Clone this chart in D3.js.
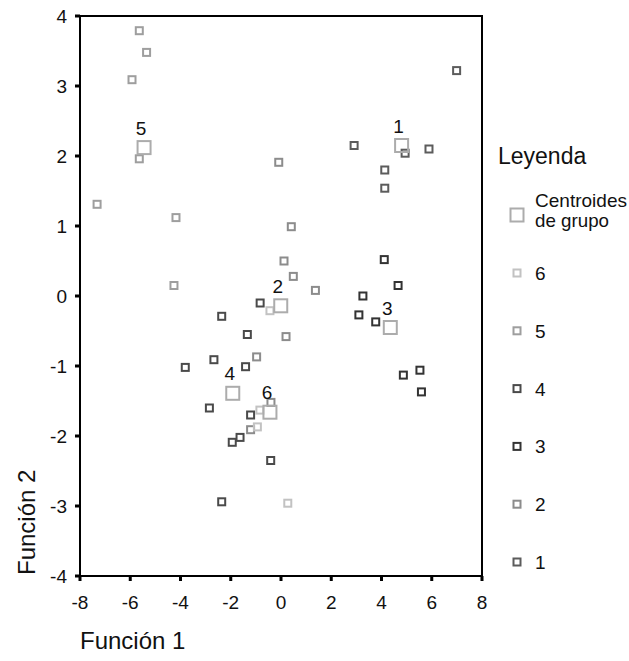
<!DOCTYPE html>
<html>
<head>
<meta charset="utf-8">
<script src="https://cdn.jsdelivr.net/npm/d3@7"></script>
<style>
  body { margin: 0; background: #fff; }
  text { font-family: "Liberation Sans", Arial, sans-serif; fill: #111; }
</style>
</head>
<body>
<svg id="chart"></svg>
<script>
// Puntuaciones discriminantes por grupo (Función 1, Función 2)
const group1 = [[6.99, 3.22], [4.94, 2.04], [5.89, 2.10], [2.91, 2.15], [4.13, 1.80], [4.13, 1.54]];
const group2 = [[-0.09, 1.91], [0.41, 0.99], [0.12, 0.50], [0.49, 0.28], [1.37, 0.08], [0.20, -0.58], [-0.97, -0.87], [-0.40, -1.52], [-1.21, -1.91]];
const group3 = [[4.11, 0.52], [4.66, 0.15], [3.26, 0.00], [3.10, -0.27], [3.77, -0.37], [4.87, -1.13], [5.53, -1.06], [5.59, -1.37]];
const group4 = [[-2.36, -0.29], [-1.34, -0.55], [-0.83, -0.10], [-3.81, -1.02], [-2.67, -0.91], [-1.41, -1.01], [-2.85, -1.60], [-1.21, -1.70], [-1.63, -2.02], [-1.94, -2.09], [-0.41, -2.35], [-2.36, -2.94]];
const group5 = [[-5.64, 3.79], [-5.35, 3.48], [-5.93, 3.09], [-5.64, 1.96], [-7.32, 1.31], [-4.18, 1.12], [-4.26, 0.15]];
const group6 = [[-0.44, -0.21], [-0.84, -1.63], [-0.94, -1.87], [0.27, -2.96]];

const groupNames = ["1", "2", "3", "4", "5", "6"];
const centroids = [[4.80, 2.15], [-0.01, -0.14], [4.35, -0.45], [-1.92, -1.39], [-5.45, 2.12], [-0.44, -1.66]];

const xTicks = [-8, -6, -4, -2, 0, 2, 4, 6, 8];
const yTicks = [4, 3, 2, 1, 0, -1, -2, -3, -4];
const legendOrder = ["6", "5", "4", "3", "2", "1"];

const groups = [group1, group2, group3, group4, group5, group6];
const colors = { "1": "#5c5c5c", "2": "#8c8c8c", "3": "#333333", "4": "#4a4a4a", "5": "#9e9e9e", "6": "#c2c2c2" };
const centroidColor = "#acacac";

const W = 629, H = 661;
const svg = d3.select("#chart").attr("width", W).attr("height", H);

const x = d3.scaleLinear().domain([-8, 8]).range([80, 482]);
const y = d3.scaleLinear().domain([-4, 4]).range([576, 16]);

// marco
svg.append("rect")
    .attr("x", x(-8)).attr("y", y(4))
    .attr("width", x(8) - x(-8)).attr("height", y(-4) - y(4))
    .attr("fill", "none").attr("stroke", "#000").attr("stroke-width", 2);

// marcas de eje
svg.selectAll(".ytick").data(yTicks).enter().append("rect")
    .attr("x", x(-8) - 5).attr("y", d => y(d) - 1.5)
    .attr("width", 5).attr("height", 3).attr("fill", "#000");
svg.selectAll(".xtick").data(xTicks).enter().append("rect")
    .attr("x", d => x(d) - 1.5).attr("y", y(-4))
    .attr("width", 3).attr("height", 5).attr("fill", "#000");

svg.selectAll(".ylab").data(yTicks).enter().append("text")
    .attr("x", x(-8) - 13).attr("y", d => y(d) + 7)
    .attr("text-anchor", "end").style("font-size", "19px")
    .text(d => d);
svg.selectAll(".xlab").data(xTicks).enter().append("text")
    .attr("x", d => x(d)).attr("y", 609)
    .attr("text-anchor", "middle").style("font-size", "19px")
    .text(d => d);

svg.append("text")
    .attr("x", 80).attr("y", 649)
    .style("font-size", "24px")
    .text("Función 1");
svg.append("text")
    .attr("transform", "translate(35,575) rotate(-90)")
    .style("font-size", "24px")
    .text("Función 2");

// puntos
groups.forEach((pts, i) => {
    svg.append("g").selectAll("rect").data(pts).enter().append("rect")
        .attr("x", d => x(d[0]) - 3.5).attr("y", d => y(d[1]) - 3.5)
        .attr("width", 7).attr("height", 7)
        .attr("fill", "none").attr("stroke", colors[groupNames[i]]).attr("stroke-width", 2);
});

// centroides
svg.append("g").selectAll("rect").data(centroids).enter().append("rect")
    .attr("x", d => x(d[0]) - 6.5).attr("y", d => y(d[1]) - 6.5)
    .attr("width", 13).attr("height", 13)
    .attr("fill", "none").attr("stroke", centroidColor).attr("stroke-width", 2);
svg.append("g").selectAll("text").data(centroids).enter().append("text")
    .attr("x", d => x(d[0]) - 3).attr("y", d => y(d[1]) - 13)
    .attr("text-anchor", "middle").style("font-size", "19px")
    .text((d, i) => groupNames[i]);

// leyenda
const leg = svg.append("g");
leg.append("text").attr("x", 498).attr("y", 164).style("font-size", "23px").text("Leyenda");
leg.append("rect").attr("x", 510.5).attr("y", 208.5).attr("width", 13).attr("height", 13)
    .attr("fill", "none").attr("stroke", centroidColor).attr("stroke-width", 2);
leg.append("text").attr("x", 535).attr("y", 207).style("font-size", "19px")
    .attr("textLength", 92).attr("lengthAdjust", "spacingAndGlyphs").text("Centroides");
leg.append("text").attr("x", 535).attr("y", 227).style("font-size", "19px")
    .attr("textLength", 74).attr("lengthAdjust", "spacingAndGlyphs").text("de grupo");

const ly = d3.scalePoint().domain(legendOrder).range([273, 562]);
leg.selectAll(".lm").data(legendOrder).enter().append("rect")
    .attr("x", 513.5).attr("y", d => ly(d) - 3.5).attr("width", 7).attr("height", 7)
    .attr("fill", "none").attr("stroke", d => colors[d]).attr("stroke-width", 2);
leg.selectAll(".lt").data(legendOrder).enter().append("text")
    .attr("x", 535).attr("y", d => ly(d) + 7).style("font-size", "19px")
    .text(d => d);
</script>
</body>
</html>
